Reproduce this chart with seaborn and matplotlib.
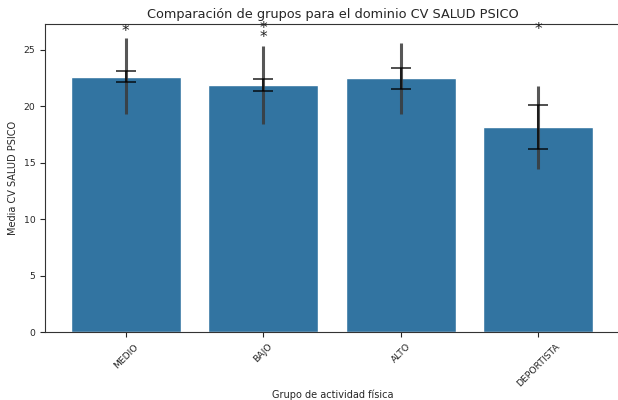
import matplotlib
matplotlib.use("Agg")
import matplotlib.pyplot as plt
import seaborn as sns
import numpy as np
import pandas as pd

grupos = ["MEDIO", "BAJO", "ALTO", "DEPORTISTA"]
medias = [22.64, 21.88, 22.50, 18.16]
sd_bajo = [19.30, 18.42, 19.34, 14.50]
sd_alto = [26.04, 25.38, 25.65, 21.82]
ic_bajo = [22.20, 21.37, 21.58, 16.20]
ic_alto = [23.17, 22.46, 23.41, 20.10]
asteriscos_x = ["MEDIO", "BAJO", "BAJO", "DEPORTISTA"]
asteriscos_y = [26.63, 26.93, 26.13, 26.81]

df = pd.DataFrame({"grupo": grupos, "media": medias})

sns.set_style("ticks")
plt.rcParams["font.family"] = ["DejaVu Sans"]

fig = plt.figure(figsize=(6.18, 4.0), dpi=100)
ax = fig.add_axes([45 / 618, 1 - 332.3 / 400, (621 - 45) / 618, (332.3 - 24.5) / 400])

sns.barplot(data=df, x="grupo", y="media", color="#1f77b4", errorbar=None, ax=ax, width=0.8)

xs = np.arange(len(grupos))
m = np.array(medias)
ax.errorbar(xs, m, yerr=[m - np.array(sd_bajo), np.array(sd_alto) - m],
            fmt="none", ecolor="#3a3a3a", elinewidth=2.2, alpha=0.85, capsize=0, zorder=3)
ax.errorbar(xs, m, yerr=[m - np.array(ic_bajo), np.array(ic_alto) - m],
            fmt="none", ecolor="black", elinewidth=1.3, capsize=7.5, capthick=1.3,
            alpha=0.75, zorder=4)

pos = {g: i for i, g in enumerate(grupos)}
for g, y in zip(asteriscos_x, asteriscos_y):
    ax.text(pos[g], y, "*", ha="center", va="center", fontsize=11, color="#222222")

ax.set_ylim(0, 27.25)
ax.set_xlim(-0.587, 3.6)
ax.set_yticks([0, 5, 10, 15, 20, 25])
ax.set_title("Comparación de grupos para el dominio CV SALUD PSICO", fontsize=9.3, pad=5)
ax.set_xlabel("Grupo de actividad física", fontsize=7, labelpad=1)
ax.set_ylabel("Media CV SALUD PSICO", fontsize=7)
ax.tick_params(axis="both", labelsize=6.7)
plt.setp(ax.get_xticklabels(), rotation=45)
for s in ax.spines.values():
    s.set_visible(True)
    s.set_color("#333333")

fig.savefig("out.png", dpi=100)
